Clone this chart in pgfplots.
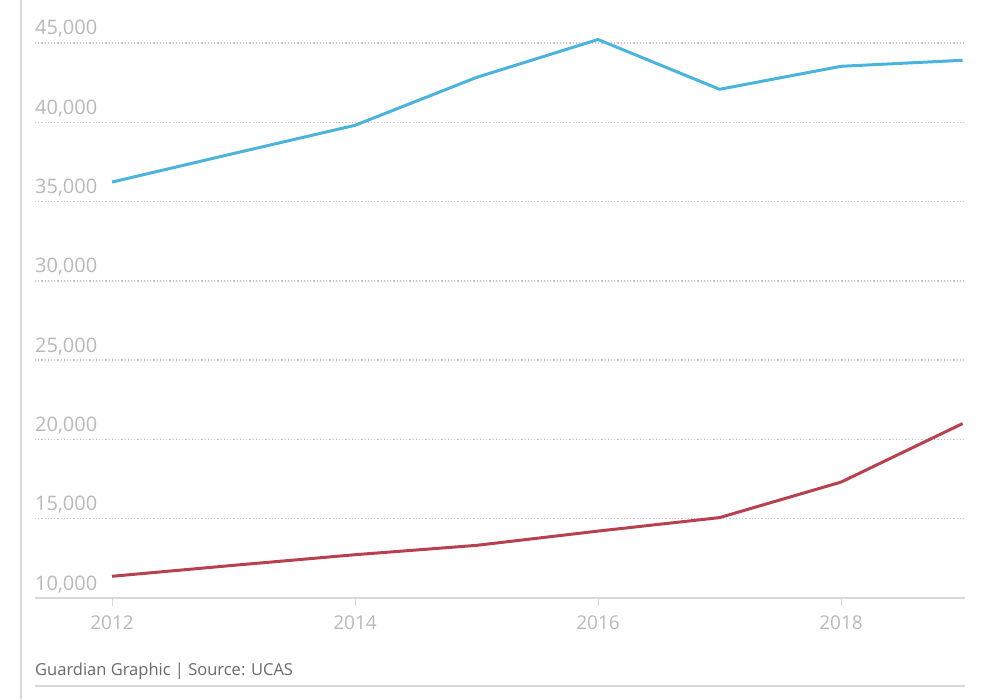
\documentclass[border=0pt]{standalone}
\usepackage{fontspec}
\setmainfont{Open Sans}
\usepackage{pgfplots}
\pgfplotsset{compat=1.18}
\definecolor{bluel}{RGB}{75,180,220}
\definecolor{redl}{RGB}{183,66,78}
\definecolor{ticktxt}{RGB}{185,185,185}
\definecolor{gridc}{RGB}{200,200,200}
\definecolor{basec}{RGB}{215,215,215}
\definecolor{foot}{RGB}{105,105,105}
\begin{document}
\begin{tikzpicture}
\useasboundingbox (0pt,0pt) rectangle (1006pt,699pt);
% left rule
\draw[basec, line width=2pt] (21pt,0pt) -- (21pt,699pt);
\begin{axis}[
    at={(35pt,101pt)}, anchor=south west,
    scale only axis,
    width=930pt, height=555pt,
    xmin=2011.366, xmax=2019.02,
    ymin=10000, ymax=45000,
    clip=false,
    axis line style={draw=none},
    xtick={2012,2014,2016,2018},
    xticklabels={2012,2014,2016,2018},
    ytick={10000,15000,20000,25000,30000,35000,40000,45000},
    scaled y ticks=false,
    yticklabel style={/pgf/number format/1000 sep={,}, /pgf/number format/assume math mode=true},
    xtick pos=bottom, ytick pos=left,
    tick align=outside,
    major tick length=8pt,
    xtick style={draw=basec, line width=1pt},
    ytick style={draw=none},
    ymajorgrids,
    grid style={gridc, line width=1.3pt, dash pattern=on 1.2pt off 2pt},
    yticklabel style={anchor=base west, inner sep=0pt, xshift=8pt, yshift=8pt,
        text=ticktxt, font=\fontsize{20}{24}\selectfont},
    xticklabel style={anchor=base, inner sep=0pt, yshift=-23pt,
        text=ticktxt, font=\fontsize{19}{23}\selectfont},
]
\draw[basec, line width=2pt] (rel axis cs:0,0) -- (rel axis cs:1,0);
\addplot[bluel, line width=3pt, line join=round] coordinates {
    (2012,36230) (2013,38030) (2014,39810) (2015,42830) (2016,45220)
    (2017,42080) (2018,43530) (2019,43910)
};
\addplot[redl, line width=3pt, line join=round] coordinates {
    (2012,11370) (2013,12060) (2014,12730) (2015,13320) (2016,14220)
    (2017,15070) (2018,17310) (2019,21000)
};
\end{axis}
\node[anchor=base west, inner sep=0pt, text=foot, font=\fontsize{16.5}{20}\selectfont]
    at (35pt,24pt) {Guardian Graphic | Source: UCAS};
\draw[basec, line width=2pt] (35pt,13pt) -- (965pt,13pt);
\end{tikzpicture}
\end{document}
